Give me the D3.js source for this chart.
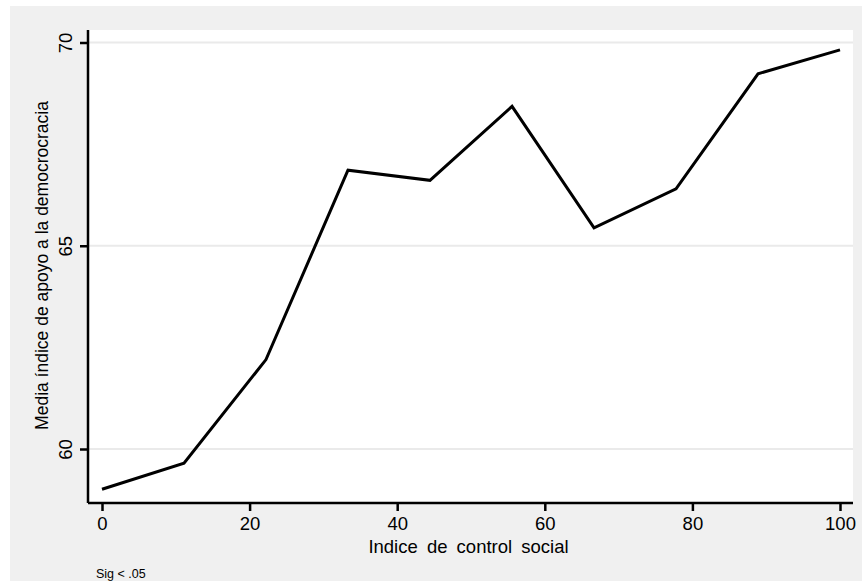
<!DOCTYPE html>
<html>
<head>
<meta charset="utf-8">
<script src="https://cdn.jsdelivr.net/npm/d3@7"></script>
<style>
html, body { margin: 0; padding: 0; background: #ffffff; }
svg { display: block; font-family: "Liberation Sans", Arial, Helvetica, sans-serif; }
</style>
</head>
<body>
<svg id="chart" width="862" height="581"></svg>
<script>
// Data
const controlIndex = [0, 11.11, 22.22, 33.33, 44.44, 55.56, 66.67, 77.78, 88.89, 100];
const meanSupport  = [59.01, 59.65, 62.20, 66.86, 66.61, 68.43, 65.44, 66.40, 69.23, 69.82];
const xTicks = [0, 20, 40, 60, 80, 100];
const yTicks = [60, 65, 70];
const xTitle = "Indice de control social";
const yTitle = "Media índice de apoyo a la democrocracia";
const note = "Sig < .05";

const W = 862, H = 581;
const plot = { left: 88, right: 853, top: 30, bottom: 503 };

const svg = d3.select("#chart");

// outer background
svg.append("rect").attr("x", 10).attr("y", 6).attr("width", W - 10).attr("height", H - 6).attr("fill", "#f0f0f0");
// plot region
svg.append("rect").attr("x", plot.left).attr("y", plot.top)
  .attr("width", plot.right - plot.left).attr("height", plot.bottom - plot.top).attr("fill", "#ffffff");

const x = d3.scaleLinear().domain([0, 100]).range([102, 840]);
const y = d3.scaleLinear().domain([60, 70]).range([449, 42.5]);

// gridlines
svg.append("g").selectAll("line").data(yTicks).join("line")
  .attr("x1", plot.left).attr("x2", plot.right)
  .attr("y1", d => y(d)).attr("y2", d => y(d))
  .attr("stroke", "#eaeaea").attr("stroke-width", 2);

// line
const pts = controlIndex.map((v, i) => [v, meanSupport[i]]);
svg.append("path").datum(pts)
  .attr("fill", "none").attr("stroke", "#000").attr("stroke-width", 3)
  .attr("stroke-linejoin", "miter")
  .attr("d", d3.line().x(d => x(d[0])).y(d => y(d[1])));

// x axis
const xAxis = svg.append("g").attr("transform", `translate(0,${plot.bottom})`)
  .call(d3.axisBottom(x).tickValues(xTicks).tickSize(8).tickPadding(5).tickFormat(d3.format("d")));
xAxis.select(".domain").attr("d", `M${plot.left},0H${plot.right}`).attr("stroke", "#000").attr("stroke-width", 2.5);
xAxis.selectAll(".tick line").attr("stroke", "#000").attr("stroke-width", 2.5);
xAxis.selectAll(".tick text").attr("font-size", 18.5).attr("fill", "#000")
  .attr("font-family", "Liberation Sans, Arial, sans-serif")
  .attr("dy", null).attr("y", 26.5);

// y axis
const yAxis = svg.append("g").attr("transform", `translate(${plot.left},0)`)
  .call(d3.axisLeft(y).tickValues(yTicks).tickSize(8).tickFormat(d3.format("d")));
yAxis.select(".domain").attr("d", `M0,${plot.top}V${plot.bottom}`).attr("stroke", "#000").attr("stroke-width", 2.5);
yAxis.selectAll(".tick line").attr("stroke", "#000").attr("stroke-width", 2.5);
yAxis.selectAll(".tick text").attr("font-size", 18.5).attr("fill", "#000")
  .attr("font-family", "Liberation Sans, Arial, sans-serif")
  .attr("x", null).attr("dy", null)
  .attr("text-anchor", "middle")
  .attr("transform", "translate(-16,0) rotate(-90)");

// titles
svg.append("text").attr("x", (plot.left + plot.right) / 2 - 2).attr("y", 553)
  .attr("text-anchor", "middle").attr("font-size", 18.5).attr("word-spacing", 4)
  .attr("fill", "#000").text(xTitle);

svg.append("text").attr("transform", `translate(48,${(plot.top + plot.bottom) / 2 - 1}) rotate(-90)`)
  .attr("text-anchor", "middle").attr("font-size", 17.5)
  .attr("fill", "#000").text(yTitle);

svg.append("text").attr("x", 96).attr("y", 578).attr("font-size", 12.5)
  .attr("fill", "#000").text(note);
</script>
</body>
</html>
